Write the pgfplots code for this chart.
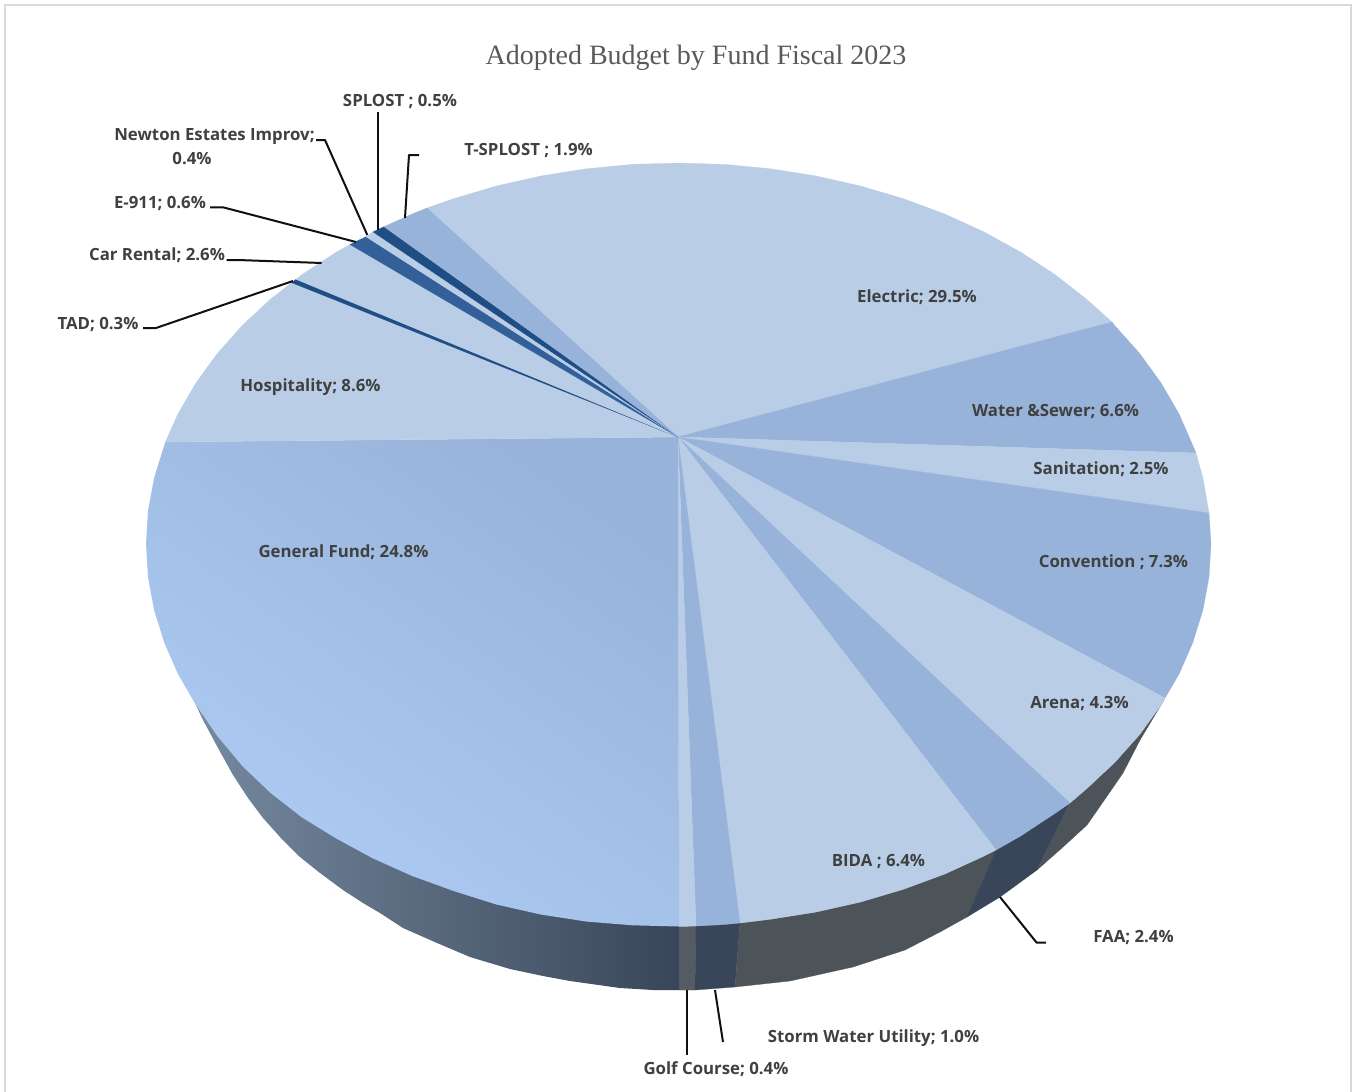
\documentclass[border=0pt]{standalone}
\usepackage{fontspec}
\setmainfont{Open Sans}
\newfontfamily\titlefont{Liberation Serif}
\usepackage{pgfplots}
\pgfplotsset{compat=1.18}
\definecolor{lightb}{HTML}{B9CDE7}
\definecolor{medb}{HTML}{97B3DA}
\definecolor{darkb}{HTML}{1F4E85}
\definecolor{darkc}{HTML}{34609A}
\definecolor{gray1}{HTML}{4C5459}
\definecolor{navy1}{HTML}{394659}
\definecolor{golfs}{HTML}{545B62}
\definecolor{sideL}{HTML}{75899F}
\definecolor{gfL}{HTML}{AECCF4}
\definecolor{leader}{HTML}{101010}
\definecolor{txt}{HTML}{404040}
\definecolor{ttl}{HTML}{595959}
\definecolor{frame}{HTML}{DADADA}
\newcommand{\lbl}[3]{\node[anchor=base,inner sep=0pt,text=txt,font=\fontsize{12.6pt}{15pt}\selectfont\bfseries] at (axis cs:#1,#2+6) {#3};}
\pgfplotsset{pw/.style={fill=#1,draw=#1,line width=0.2pt},ld/.style={draw=leader,line width=1.5pt,line join=round}}
\begin{document}
\begin{tikzpicture}
\path[use as bounding box] (0,0) rectangle (1020pt,819pt);
\begin{axis}[scale only axis,width=1020pt,height=819pt,xmin=0,xmax=1360,ymin=0,ymax=1092,y dir=reverse,hide axis,clip=false,no markers,at={(0,0)},anchor=south west]
% frame
\addplot[draw=frame,line width=1.5pt] coordinates {(5,1092)(5,5)(1351,5)(1351,1092)};
% sides
\addplot[draw=none,left color=sideL,right color=navy1] coordinates {(195.9,705)(203,720)(218,748)(233,775)(248,798)(263,818)(280,837)(300,857)(320,873)(343,890)(363,903)(380,913)(403,928)(437,943)(470,957)(510,969)(543,976)(570,981)(620,988)(653,990)(679,990)(679,926)(540.7,914)(412.2,876)(302,817)(242.3,765)} --cycle;
\addplot[pw=golfs] coordinates {(679,926.5)(696,926)(695,990)(679,990)} --cycle;
\addplot[pw=navy1] coordinates {(696,926)(740,923)(735,987)(695,990)} --cycle;
\addplot[pw=gray1] coordinates {(740,923)(771,919)(816,912)(860.6,902)(903.5,889)(945,874)(984,856)(996,850)(967,917)(940,932)(905,950)(853,967)(790,981)(735,987)} --cycle;
\addplot[pw=navy1] coordinates {(996,850)(1021,836)(1055,813)(1070,803)(1037,870)(1000,897)(967,917)} --cycle;
\addplot[pw=gray1] coordinates {(1070,803)(1086.4,789)(1114.7,762.5)(1139.7,734.5)(1161,705)(1165,698)(1158,710)(1140,740)(1123,773)(1103,802)(1087,825)(1063,847)(1037,870)} --cycle;
% top
\addplot[pw=lightb] coordinates {(678,437)(427,208)(453.5,198.7)(496.4,186)(540.7,176)(586,168.8)(632.1,164.4)(678.5,163)(724.9,164.4)(771,168.8)(816.3,176)(860.6,186)(903.5,198.7)(944.8,214)(983.9,231.9)(1020.8,252.2)(1055,274.6)(1086.4,299.1)(1112,322)} --cycle;
\addplot[pw=medb] coordinates {(678,437)(1112,322)(1114.7,325.5)(1139.7,353.5)(1161.1,383)(1178.9,413.7)(1192.8,445.4)(1196,453)} --cycle;
\addplot[pw=lightb] coordinates {(678,437)(1196,453)(1202.9,477.9)(1209,513)} --cycle;
\addplot[pw=medb] coordinates {(678,437)(1209,513)(1211,544)(1209,577.2)(1202.9,610.1)(1192.8,642.6)(1178.9,674.3)(1165,698)} --cycle;
\addplot[pw=lightb] coordinates {(678,437)(1165,698)(1161.1,705)(1139.7,734.5)(1114.7,762.5)(1086.4,788.9)(1070,803)} --cycle;
\addplot[pw=medb] coordinates {(678,437)(1070,803)(1055,813.4)(1020.8,835.8)(996,850)} --cycle;
\addplot[pw=lightb] coordinates {(678,437)(996,850)(983.9,856.1)(944.8,874)(903.5,889.3)(860.6,902)(816.3,912)(771,919.2)(740,923)} --cycle;
\addplot[pw=medb] coordinates {(678,437)(740,923)(724.9,924.5)(696,926)} --cycle;
\addplot[pw=lightb] coordinates {(678,437)(696,926)(679,926.5)} --cycle;
\addplot[draw=none,top color=medb,bottom color=gfL,shading angle=-35] coordinates {(678,437)(679,926.5)(632.1,925.3)(586,921.5)(540.7,914.5)(496.4,904.5)(453.5,891)(412.2,876)(373.1,858.5)(336.2,838.5)(302,817.5)(270.6,793)(242.3,766)(217.3,736)(195.9,705)(178.1,674.3)(164.2,642.6)(154.1,610.1)(148,577.2)(146,544)(148,510.8)(154.1,477.9)(164.2,445.4)(165.4,442)} --cycle;
\addplot[pw=lightb] coordinates {(678,437)(165.4,442)(178.1,413.7)(195.9,383)(217.3,353.5)(242.3,325.5)(270.6,299.1)(291.7,282.7)} --cycle;
\addplot[pw=darkb] coordinates {(678,437)(291.7,282.7)(296,279.3)} --cycle;
\addplot[pw=lightb] coordinates {(678,437)(296,279.3)(302,274.6)(336.2,252.2)(350,244.5)} --cycle;
\addplot[pw=darkc] coordinates {(678,437)(350,244.5)(366,236.7)} --cycle;
\addplot[pw=lightb] coordinates {(678,437)(366,236.7)(373,231.9)} --cycle;
\addplot[pw=darkb] coordinates {(678,437)(373,231.9)(384,226.7)} --cycle;
\addplot[pw=medb] coordinates {(678,437)(384,226.7)(412.2,214)(427,208)} --cycle;
% leaders
\addplot[ld] coordinates {(316,140)(325,140)(367.3,235)};
\addplot[ld] coordinates {(377.7,111.7)(377.7,230)};
\addplot[ld] coordinates {(419,155)(409,155)(405,218)};
\addplot[ld] coordinates {(210,207.3)(223,207.3)(356,242)};
\addplot[ld] coordinates {(226.7,260)(238,260)(321.7,263)};
\addplot[ld] coordinates {(143,328)(156,328)(293,281)};
\addplot[ld] coordinates {(686.7,990)(686.7,1055)};
\addplot[ld] coordinates {(715,990)(723,1042)};
\addplot[ld] coordinates {(1000,897)(1036.7,942.7)(1046,942.7)};
% text
\node[anchor=center,inner sep=0pt,text=ttl,font=\titlefont\fontsize{21pt}{25pt}\selectfont] at (axis cs:696,58) {Adopted Budget by Fund Fiscal 2023};
\lbl{400}{100}{SPLOST ; 0.5\%}
\lbl{528.5}{149}{T-SPLOST ; 1.9\%}
\lbl{214.5}{134}{Newton Estates Improv;}
\lbl{192}{158}{0.4\%}
\lbl{160}{202}{E-911; 0.6\%}
\lbl{157}{254}{Car Rental; 2.6\%}
\lbl{98}{323}{TAD; 0.3\%}
\lbl{917}{296}{Electric; 29.5\%}
\lbl{1055.5}{410}{Water \&Sewer; 6.6\%}
\lbl{1101}{468}{Sanitation; 2.5\%}
\lbl{1113.5}{561}{Convention ; 7.3\%}
\lbl{1079.5}{702}{Arena; 4.3\%}
\lbl{878.5}{860}{BIDA ; 6.4\%}
\lbl{1133.5}{936}{FAA; 2.4\%}
\lbl{873.5}{1036}{Storm Water Utility; 1.0\%}
\lbl{716}{1068}{Golf Course; 0.4\%}
\lbl{343.5}{551}{General Fund; 24.8\%}
\lbl{310.5}{385}{Hospitality; 8.6\%}
\end{axis}
\end{tikzpicture}
\end{document}
